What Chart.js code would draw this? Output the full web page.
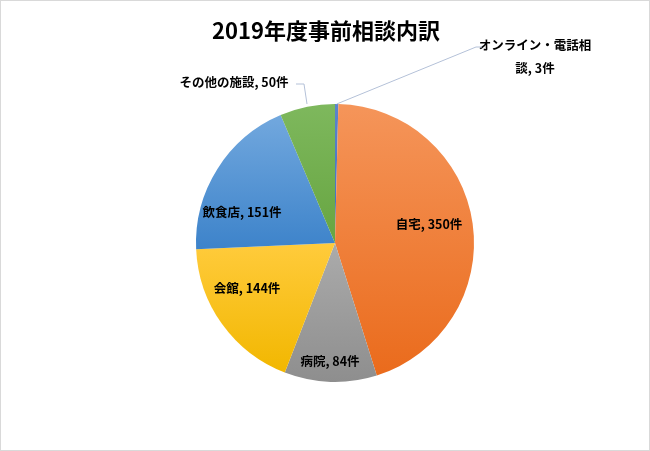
<!DOCTYPE html>
<html>
<head>
<meta charset="utf-8">
<script src="https://cdn.jsdelivr.net/npm/chart.js@4"></script>
<style>
html,body{margin:0;padding:0;background:#fff;}
#wrap{position:relative;width:650px;height:451px;}
#frame{position:absolute;left:0;top:0;width:648px;height:449px;border:1px solid #d9d9d9;pointer-events:none;}
</style>
</head>
<body>
<div id="wrap"><canvas id="c" width="650" height="451"></canvas><div id="frame"></div></div>
<script>
const titleText = '2019年度事前相談内訳';
const categories = ['オンライン・電話相談', '自宅', '病院', '会館', '飲食店', 'その他の施設'];
const values = [3, 350, 84, 144, 151, 50];
const unit = '件';
const topColors = ['#5B84CC', '#F5955A', '#ABABAB', '#FFCB3C', '#72A8DE', '#7EB85D'];
const bottomColors = ['#3F6DBF', '#EA6B1C', '#8E8E8E', '#F2B700', '#3D83CA', '#67A541'];

const FONT = '"Noto Sans CJK JP", "Noto Sans", sans-serif';

function sliceBounds(chart, idx) {
  const ca = chart.chartArea;
  const cx = (ca.left + ca.right) / 2, cy = (ca.top + ca.bottom) / 2;
  const r = Math.min(ca.right - ca.left, ca.bottom - ca.top) / 2;
  const total = values.reduce((a, b) => a + b, 0);
  let start = -Math.PI / 2;
  for (let i = 0; i < idx; i++) start += values[i] / total * 2 * Math.PI;
  const end = start + values[idx] / total * 2 * Math.PI;
  let ymin = cy, ymax = cy;
  const n = 60;
  for (let i = 0; i <= n; i++) {
    const a = start + (end - start) * i / n;
    const y = cy + Math.sin(a) * r;
    ymin = Math.min(ymin, y); ymax = Math.max(ymax, y);
  }
  return {ymin, ymax};
}

const labelPlugin = {
  id: 'labels',
  afterDatasetsDraw(chart) {
    const ctx = chart.ctx;
    const meta = chart.getDatasetMeta(0);
    ctx.save();
    ctx.fillStyle = '#000';
    ctx.font = 'bold 22px ' + FONT;
    ctx.textAlign = 'center';
    ctx.textBaseline = 'middle';
    ctx.fillText(titleText, 326, 31);

    ctx.font = 'bold 12.5px ' + FONT;
    ctx.fillStyle = '#000';
    const pos = [
      {x: 535, lines: ['オンライン・電話相', '談, ' + values[0] + unit], y: 45, lh: 23},
      {x: 429, lines: [categories[1] + ', ' + values[1] + unit], y: 224},
      {x: 330, lines: [categories[2] + ', ' + values[2] + unit], y: 361},
      {x: 247, lines: [categories[3] + ', ' + values[3] + unit], y: 288},
      {x: 242, lines: [categories[4] + ', ' + values[4] + unit], y: 212},
      {x: 234, lines: [categories[5] + ', ' + values[5] + unit], y: 82}
    ];
    pos.forEach(p => {
      p.lines.forEach((t, i) => ctx.fillText(t, p.x, p.y + i * (p.lh || 0)));
    });

    ctx.strokeStyle = '#b4c1d8';
    ctx.lineWidth = 1;
    const a0 = meta.data[0].getProps(['x','y','startAngle','endAngle','outerRadius'], true);
    const mid0 = (a0.startAngle + a0.endAngle) / 2;
    ctx.beginPath();
    ctx.moveTo(a0.x + Math.cos(mid0) * a0.outerRadius, a0.y + Math.sin(mid0) * a0.outerRadius);
    ctx.lineTo(476, 47);
    ctx.lineTo(482, 47);
    ctx.stroke();

    ctx.beginPath();
    ctx.moveTo(296, 84);
    ctx.lineTo(304, 84);
    ctx.lineTo(307, 104);
    ctx.stroke();
    ctx.restore();
  }
};

new Chart(document.getElementById('c'), {
  type: 'pie',
  data: {
    labels: categories,
    datasets: [{
      data: values,
      borderWidth: 0,
      backgroundColor: (context) => {
        const chart = context.chart;
        const i = context.dataIndex;
        if (!chart.chartArea) return topColors[i];
        const b = sliceBounds(chart, i);
        if (!b || !isFinite(b.ymin) || b.ymax - b.ymin < 1) return topColors[i];
        const g = chart.ctx.createLinearGradient(0, b.ymin, 0, b.ymax);
        g.addColorStop(0, topColors[i]);
        g.addColorStop(1, bottomColors[i]);
        return g;
      }
    }]
  },
  options: {
    responsive: false,
    animation: false,
    layout: {padding: {top: 104, bottom: 69, left: 196, right: 176}},
    plugins: {
      legend: {display: false},
      title: {display: false},
      tooltip: {enabled: false}
    }
  },
  plugins: [labelPlugin]
});
</script>
</body>
</html>
